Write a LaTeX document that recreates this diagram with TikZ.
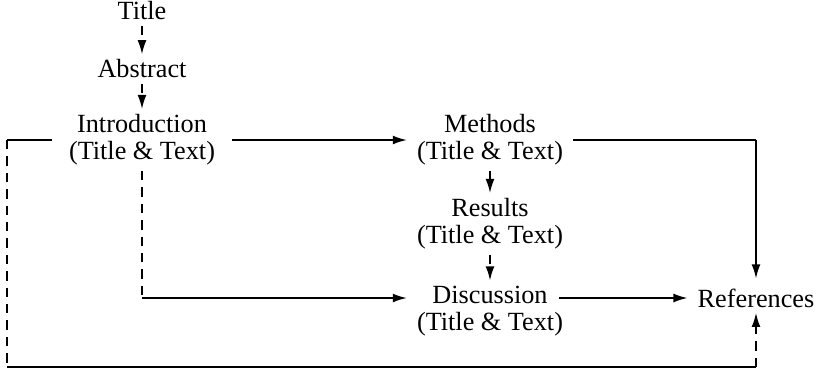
\documentclass[tikz,border=0pt]{standalone}
\usepackage{fontspec}
\setmainfont{Liberation Serif}
\usetikzlibrary{arrows.meta}
\begin{document}
\begin{tikzpicture}[x=0.015cm, y=-0.015cm,
    font=\fontsize{11.2}{11.6}\selectfont, >={Latex[length=6pt,width=3.8pt]},
    line width=0.7pt,
    part/.style={align=center, inner sep=2pt},
    dsh/.style={dash pattern=on 4pt off 3pt}]
  % page grid: 820 x 372 units, y running down
  \useasboundingbox (0,0) rectangle (820,372);
  \node[part] (title) at (142,11) {Title};
  \node[part] (abstract) at (142,69) {Abstract};
  \node[part] (intro) at (142,140) {Introduction\\(Title \& Text)};
  \node[part] (methods) at (490,140) {Methods\\(Title \& Text)};
  \node[part] (results) at (490,224) {Results\\(Title \& Text)};
  \node[part] (discussion) at (490,311) {Discussion\\(Title \& Text)};
  \node[part] (refs) at (756,298) {References};
  % corners of the long routes
  \coordinate (lt) at (7,140);
  \coordinate (lb) at (7,367);
  \coordinate (rb) at (756,367);
  \coordinate (rt) at (756,140);
  \coordinate (ib) at (142,298);
  % main reading order
  \draw[->,dsh] (title) -- (abstract);
  \draw[->,dsh] (abstract) -- (intro);
  \draw[->,shorten <=5pt,shorten >=2pt] (intro) -- (methods);
  \draw[->,dsh] (methods) -- (results);
  \draw[->,dsh] (results) -- (discussion);
  \draw[->,shorten <=-4pt,shorten >=2pt] (discussion.east |- refs) -- (refs);
  % side routes
  \draw[shorten <=2pt] (methods) -- (rt);
  \draw[->,shorten >=2pt] (rt) -- (refs);
  \draw[dsh] (intro) -- (ib);
  \draw[->,shorten >=2pt] (ib) -- (discussion.west |- ib);
  \draw[shorten <=5pt] (intro) -- (lt);
  \draw[dsh] (lt) -- (lb);
  \draw (lb) -- (rb);
  \draw[->,dsh] (rb) -- (refs);
\end{tikzpicture}
\end{document}
